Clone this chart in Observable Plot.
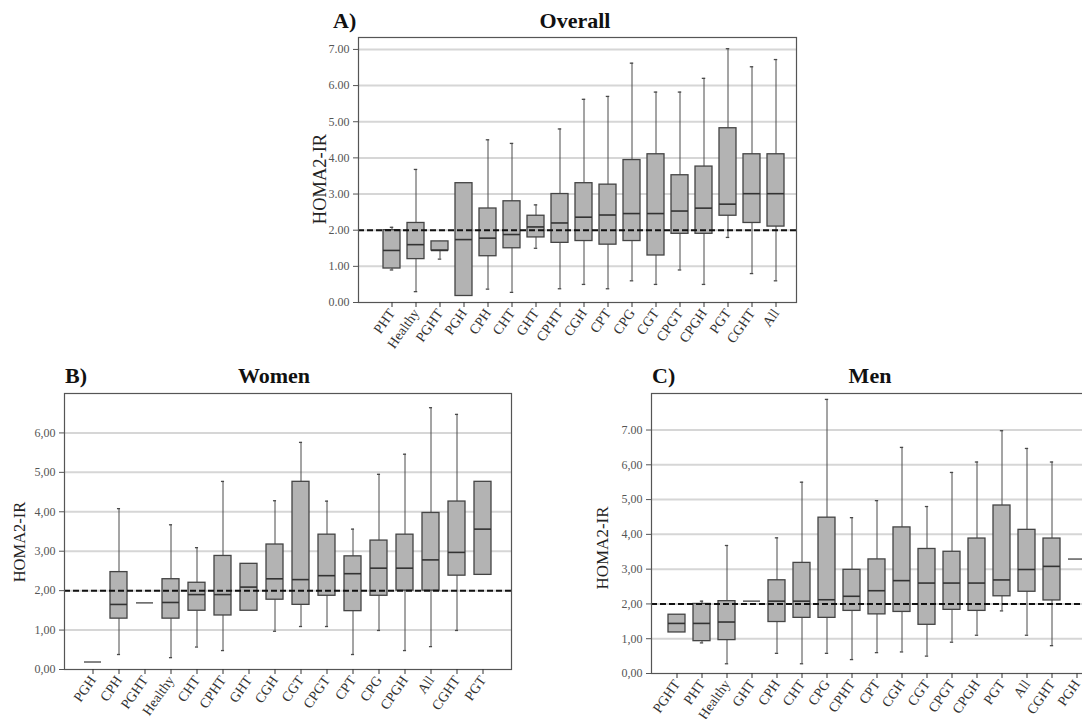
<!DOCTYPE html>
<html><head><meta charset="utf-8">
<script src="https://cdn.jsdelivr.net/npm/d3@7"></script>
<script src="https://cdn.jsdelivr.net/npm/@observablehq/plot@0.6"></script>
<style>
html,body{margin:0;padding:0;background:#fff;width:1082px;height:719px;overflow:hidden;}
#root{position:relative;width:1082px;height:719px;overflow:hidden;font-family:"Liberation Serif",serif;background:#fff;}
.panel{position:absolute;}
.ttl{position:absolute;font-weight:bold;font-size:22px;line-height:1;white-space:nowrap;color:#111;}
.ylab{position:absolute;white-space:nowrap;color:#222;line-height:1;transform:translate(-50%,-50%) rotate(-90deg);}
</style></head><body><div id="root"></div>
<script>
// ---------- Panel A: Overall ----------
const catsA = ["PHT","Healthy","PGHT","PGH","CPH","CHT","GHT","CPHT","CGH","CPT","CPG","CGT","CPGT","CPGH","PGT","CGHT","All"];
const minA  = [0.90, 0.30, 1.20, null, 0.37, 0.28, 1.50, 0.38, 0.50, 0.38, 0.60, 0.50, 0.90, 0.50, 1.80, 0.80, 0.60];
const q1A   = [0.94, 1.20, 1.44, 0.18, 1.28, 1.50, 1.80, 1.65, 1.70, 1.60, 1.70, 1.30, 1.90, 1.90, 2.40, 2.20, 2.10];
const medA  = [1.44, 1.60, 1.44, 1.74, 1.78, 1.88, 2.09, 2.20, 2.36, 2.42, 2.46, 2.46, 2.53, 2.61, 2.72, 3.01, 3.01];
const q3A   = [2.00, 2.20, 1.69, 3.30, 2.60, 2.80, 2.40, 3.00, 3.30, 3.26, 3.94, 4.10, 3.52, 3.76, 4.82, 4.10, 4.10];
const maxA  = [2.08, 3.68, null, null, 4.50, 4.40, 2.70, 4.80, 5.62, 5.70, 6.62, 5.82, 5.82, 6.20, 7.02, 6.52, 6.72];
const yTicksA = [0,1,2,3,4,5,6,7];
const yLabelsA = ["0.00","1.00","2.00","3.00","4.00","5.00","6.00","7.00"];

// ---------- Panel B: Women ----------
const catsB = ["PGH","CPH","PGHT","Healthy","CHT","CPHT","GHT","CGH","CGT","CPGT","CPT","CPG","CPGH","All","CGHT","PGT"];
const minB  = [null, 0.38, null, 0.30, 0.57, 0.48, null, 0.97, 1.09, 1.09, 0.38, 0.99, 0.48, 0.58, 0.99, null];
const q1B   = [null, 1.29, null, 1.29, 1.49, 1.37, 1.49, 1.77, 1.64, 1.87, 1.48, 1.87, 2.00, 2.00, 2.38, 2.40];
const medB  = [0.19, 1.65, 1.69, 1.70, 1.90, 1.90, 2.09, 2.30, 2.28, 2.38, 2.43, 2.57, 2.57, 2.78, 2.97, 3.56];
const q3B   = [null, 2.47, null, 2.29, 2.20, 2.88, 2.68, 3.17, 4.76, 3.42, 2.87, 3.27, 3.42, 3.97, 4.26, 4.76];
const maxB  = [null, 4.08, null, 3.67, 3.09, 4.77, null, 4.28, 5.76, 4.27, 3.56, 4.95, 5.46, 6.64, 6.47, null];
const yTicksB = [0,1,2,3,4,5,6];
const yLabelsB = ["0,00","1,00","2,00","3,00","4,00","5,00","6,00"];

// ---------- Panel C: Men ----------
const catsC = ["PGHT","PHT","Healthy","GHT","CPH","CHT","CPG","CPHT","CPT","CGH","CGT","CPGT","CPGH","PGT","All","CGHT","PGH"];
const minC  = [null, 0.88, 0.28, null, 0.58, 0.28, 0.58, 0.40, 0.60, 0.62, 0.50, 0.90, 1.10, 1.80, 1.10, 0.80, null];
const q1C   = [1.18, 0.93, 0.96, null, 1.48, 1.60, 1.60, 1.80, 1.70, 1.77, 1.40, 1.83, 1.80, 2.22, 2.35, 2.10, null];
const medC  = [1.44, 1.44, 1.48, 2.08, 2.08, 2.08, 2.12, 2.22, 2.38, 2.67, 2.60, 2.60, 2.60, 2.69, 2.99, 3.08, 3.29];
const q3C   = [1.69, 2.00, 2.08, null, 2.68, 3.18, 4.48, 2.98, 3.28, 4.20, 3.58, 3.50, 3.88, 4.83, 4.13, 3.88, null];
const maxC  = [null, 2.08, 3.68, null, 3.90, 5.50, 7.88, 4.48, 4.97, 6.50, 4.80, 5.78, 6.08, 6.98, 6.47, 6.08, null];
const yTicksC = [0,1,2,3,4,5,6,7];
const yLabelsC = ["0,00","1,00","2,00","3,00","4,00","5,00","6,00","7.00"];

const refLine = [2];

function boxPanel(o) {
  const rows = o.cats.map((c, i) => ({
    c, lo: o.min[i], q1: o.q1[i], med: o.med[i], q3: o.q3[i], hi: o.max[i]
  }));
  const boxes = rows.filter(d => d.q1 != null && d.q3 != null);
  const whisk = rows.filter(d => d.lo != null || d.hi != null).map(d => ({
    c: d.c, lo: d.lo != null ? d.lo : d.q1, hi: d.hi != null ? d.hi : d.q3,
    hasLo: d.lo != null, hasHi: d.hi != null
  }));
  const singles = rows.filter(d => d.q1 == null);
  const inBox = rows.filter(d => d.q1 != null);
  const n = o.cats.length;
  const bw = o.step * (1 - o.pad);
  const r0 = o.c0 - bw / 2;
  const r1 = r0 + o.step * (n - o.pad);
  const capInset = bw / 2 - 1.8;
  const fmt = v => o.yLabels[o.yTicks.indexOf(v)];
  return Plot.plot({
    width: o.width, height: o.height,
    marginLeft: o.ml, marginRight: o.mr, marginTop: o.mt, marginBottom: o.mb,
    style: {fontFamily: "Liberation Serif, serif", background: "transparent", overflow: "visible"},
    x: {type: "band", domain: o.cats, range: [r0, r1], paddingInner: o.pad, paddingOuter: 0, align: 0.5},
    y: {domain: o.yDomain},
    marks: [
      Plot.ruleY(o.yTicks.filter(t => t > 0), {stroke: "#d6d6d6", strokeWidth: 2}),
      Plot.ruleX(whisk, {x: "c", y1: "lo", y2: "hi", stroke: "#4a4a4a", strokeWidth: 1}),
      Plot.tickY(whisk.filter(d => d.hasHi), {x: "c", y: "hi", stroke: "#4a4a4a", strokeWidth: 1.3, insetLeft: capInset, insetRight: capInset}),
      Plot.tickY(whisk.filter(d => d.hasLo), {x: "c", y: "lo", stroke: "#4a4a4a", strokeWidth: 1.3, insetLeft: capInset, insetRight: capInset}),
      Plot.barY(boxes, {x: "c", y1: "q1", y2: "q3", fill: "#b3b3b3", stroke: "#444", strokeWidth: 1.3}),
      Plot.tickY(inBox, {x: "c", y: "med", stroke: "#333", strokeWidth: 1.6}),
      Plot.tickY(singles, {x: "c", y: "med", stroke: "#666", strokeWidth: 1.6}),
      Plot.ruleY(refLine, {stroke: "#111", strokeWidth: 2, strokeDasharray: "6,3"}),
      Plot.frame({stroke: "#555", strokeWidth: 1.2}),
      Plot.axisY({ticks: o.yTicks, tickFormat: fmt, tickSize: 5, tickPadding: 4, fontSize: 12, color: "#555", label: null}),
      Plot.axisX({tickRotate: -55, tickSize: 5, tickPadding: 3, fontSize: 14, color: "#333", label: null})
    ]
  });
}

const root = document.getElementById("root");
function place(node, left, top) {
  node.classList.add("panel");
  node.style.left = left + "px";
  node.style.top = top + "px";
  root.appendChild(node);
}
function addText(cls, txt, left, top, extra) {
  const d = document.createElement("div");
  d.className = cls;
  d.textContent = txt;
  d.style.left = left + "px";
  d.style.top = top + "px";
  if (extra) Object.assign(d.style, extra);
  root.appendChild(d);
}

place(boxPanel({
  cats: catsA, min: minA, q1: q1A, med: medA, q3: q3A, max: maxA,
  yTicks: yTicksA, yLabels: yLabelsA, yDomain: [0, 7.33],
  width: 510, height: 360, ml: 58, mr: 14, mt: 37, mb: 58,
  c0: 87, step: 24.5, pad: 0.3
}), 300, 0);

place(boxPanel({
  cats: catsB, min: minB, q1: q1B, med: medB, q3: q3B, max: maxB,
  yTicks: yTicksB, yLabels: yLabelsB, yDomain: [0, 7],
  width: 540, height: 359, ml: 64, mr: 29, mt: 33, mb: 50,
  c0: 85, step: 26.93, pad: 0.35
}), 0, 360);

place(boxPanel({
  cats: catsC, min: minC, q1: q1C, med: medC, q3: q3C, max: maxC,
  yTicks: yTicksC, yLabels: yLabelsC, yDomain: [0, 8.05],
  width: 560, height: 359, ml: 111, mr: 10, mt: 33, mb: 46,
  c0: 136, step: 25.06, pad: 0.31
}), 540, 360);

// titles
addText("ttl", "A)", 333, 10);
addText("ttl", "Overall", 575, 10, {transform: "translateX(-50%)"});
addText("ttl", "B)", 65, 365);
addText("ttl", "Women", 274, 365, {transform: "translateX(-50%)"});
addText("ttl", "C)", 652, 365);
addText("ttl", "Men", 870, 365, {transform: "translateX(-50%)"});

// y-axis labels
addText("ylab", "HOMA2-IR", 320, 179, {fontSize: "18.5px"});
addText("ylab", "HOMA2-IR", 20, 542, {fontSize: "16.5px"});
addText("ylab", "HOMA2-IR", 602, 548, {fontSize: "17px"});
</script>
</body></html>
